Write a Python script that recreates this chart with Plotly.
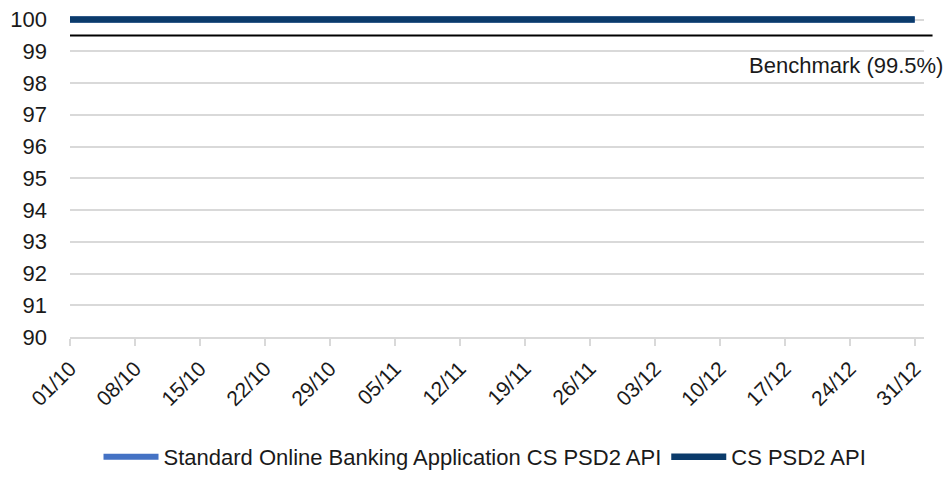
import plotly.graph_objects as go

# Data
dates = ["2023-10-01", "2023-10-08", "2023-10-15", "2023-10-22", "2023-10-29",
         "2023-11-05", "2023-11-12", "2023-11-19", "2023-11-26", "2023-12-03",
         "2023-12-10", "2023-12-17", "2023-12-24", "2023-12-31"]
standard_app = [100, 100, 100, 100, 100, 100, 100, 100, 100, 100, 100, 100, 100, 100]
cs_psd2_api = [100, 100, 100, 100, 100, 100, 100, 100, 100, 100, 100, 100, 100, 100]
benchmark = 99.5
y_ticks = [90, 91, 92, 93, 94, 95, 96, 97, 98, 99, 100]

FONT = "Liberation Sans, Arial, sans-serif"
TXT = "#1a1a1a"
GRID = "#D9D9D9"
FS = 22

fig = go.Figure()
fig.add_trace(go.Scatter(x=dates, y=standard_app, mode="lines",
                         name="Standard Online Banking Application CS PSD2 API",
                         line=dict(color="#4472C4", width=6)))
fig.add_trace(go.Scatter(x=dates, y=cs_psd2_api, mode="lines",
                         name="CS PSD2 API",
                         line=dict(color="#0B3B6B", width=6.5)))

fig.add_shape(type="line", xref="paper", x0=0, x1=1.01, yref="y",
              y0=benchmark, y1=benchmark, line=dict(color="black", width=2))
fig.add_annotation(xref="paper", x=1.025, xanchor="right", yref="y", y=benchmark,
                   yanchor="top", yshift=-16, text="Benchmark (99.5%)",
                   showarrow=False, font=dict(family=FONT, size=FS, color=TXT))

fig.update_layout(
    width=951, height=479,
    margin=dict(l=70, r=27, t=10, b=142, autoexpand=False),
    paper_bgcolor="white", plot_bgcolor="white",
    font=dict(family=FONT, size=FS, color=TXT),
    showlegend=True,
    legend=dict(orientation="h", x=0.51, xanchor="center", xref="container",
                y=0.046, yanchor="middle", yref="container",
                font=dict(family=FONT, size=FS, color=TXT),
                itemwidth=55, tracegroupgap=0),
    xaxis=dict(type="date", range=["2023-10-01", "2024-01-01"], automargin=False,
               tickvals=dates, tickformat="%d/%m", tickangle=-45,
               showgrid=False, showline=True, linecolor=GRID, linewidth=2,
               ticks="outside", ticklen=7, tickcolor=GRID, tickwidth=2,
               ticklabelstandoff=2,
               tickfont=dict(family=FONT, size=21, color=TXT), zeroline=False),
    yaxis=dict(range=[90, 100.3], tickvals=y_ticks, showgrid=True, automargin=False,
               gridcolor=GRID, gridwidth=1.5, zeroline=False, showline=False,
               ticks="", ticklabelstandoff=22,
               tickfont=dict(family=FONT, size=FS, color=TXT)),
)

fig.write_html("out.html", config={"displayModeBar": False},
               post_script="document.body.style.margin='0';document.body.style.overflow='hidden';")
